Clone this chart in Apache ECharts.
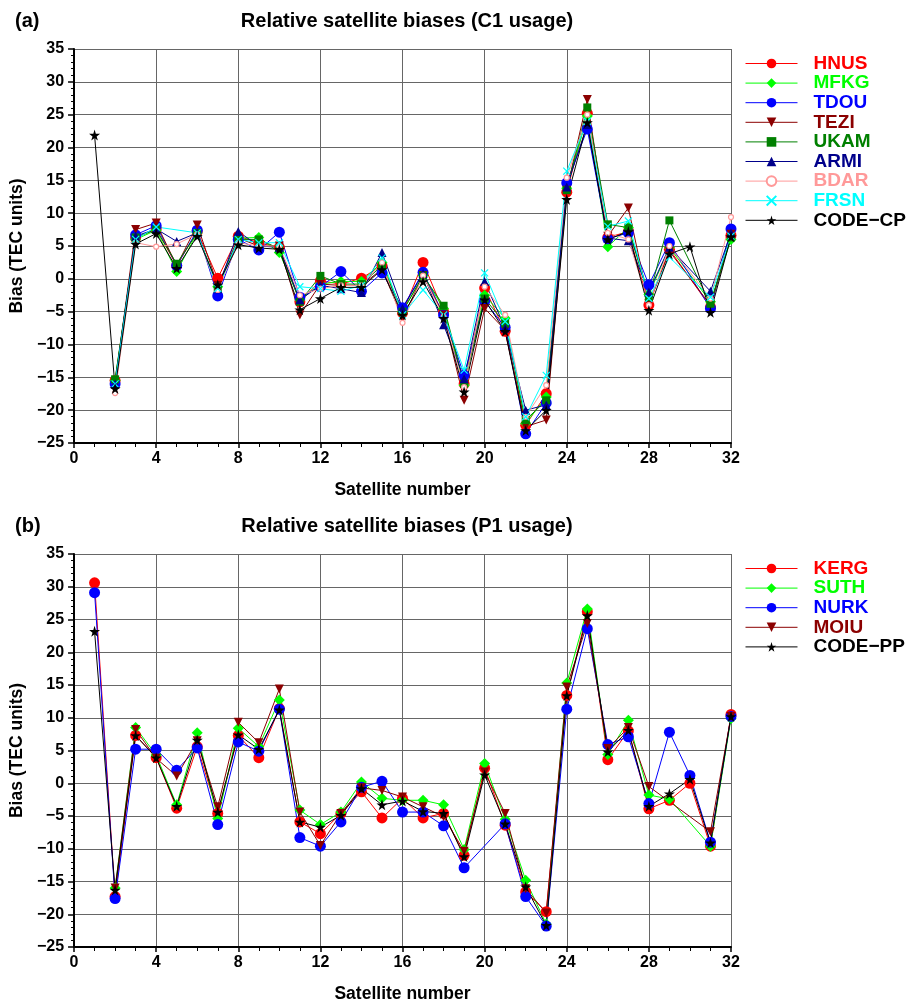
<!DOCTYPE html>
<html>
<head>
<meta charset="utf-8">
<script src="https://cdn.jsdelivr.net/npm/echarts@6/dist/echarts.min.js"></script>
<style>
  html, body { margin: 0; padding: 0; background: #fff; }
  #chart { width: 921px; height: 1004px; }
</style>
</head>
<body>
<div id="chart"></div>
<script>
// satellite numbers 1..32
var sats = [1, 2, 3, 4, 5, 6, 7, 8, 9, 10, 11, 12, 13, 14, 15, 16,
  17, 18, 19, 20, 21, 22, 23, 24, 25, 26, 27, 28, 29, 30, 31, 32];

// (a) C1 usage
var hnus = [null, -15.5, 6.2, 7.6, 2.0, 7.2, 0.1, 6.5, 5.5, 4.8, -3.5, -0.3, -0.8, 0.1, 2.0, -5.2, 2.5, -5.0, -16.0, -1.4, -8.0, -22.3, -17.5, 13.2, 25.2, 6.3, 7.2, -4.0, 4.5, null, -4.3, 6.6];
var mfkg = [null, -15.5, 6.0, 7.4, 1.1, 7.0, -1.2, 6.2, 6.3, 4.0, -3.2, -0.8, -0.4, -0.4, 2.5, -5.0, 0.5, -4.5, -16.2, -2.5, -6.0, -22.0, -18.0, 13.8, 24.8, 4.9, 7.8, -2.4, 4.8, null, -3.5, 6.0];
var tdou = [null, -16.0, 6.7, 8.1, 2.0, 7.4, -2.6, 6.0, 4.4, 7.1, -2.8, -1.2, 1.1, -1.9, 0.9, -4.4, 1.0, -5.5, -14.7, -3.4, -7.4, -23.6, -18.9, 14.6, 22.8, 6.1, 7.0, -0.9, 5.5, null, -4.5, 7.6];
var tezi = [null, -16.0, 7.5, 8.5, 2.0, 8.2, -1.0, 6.2, 5.0, 5.0, -5.5, -0.8, -1.0, -1.0, 1.5, -6.0, 0.5, -5.5, -18.5, -4.5, -7.8, -22.5, -21.5, 13.5, 27.3, 6.5, 10.8, -3.8, 4.2, null, -4.0, 6.8];
var ukam = [null, -15.3, 6.3, 7.5, 2.3, 7.0, -1.5, 6.0, 6.0, 4.6, -3.5, 0.45, -0.8, -0.8, 2.0, -5.0, 0.5, -4.1, -16.0, -3.0, -6.8, -21.5, -18.5, 13.5, 26.1, 8.3, 7.8, -2.8, 8.9, null, -3.8, 6.3];
var armi = [null, -16.0, 6.5, 7.6, 5.7, 7.0, -1.5, 7.2, 5.0, 4.8, -3.2, -1.0, -1.5, -2.1, 4.0, -4.5, 0.8, -7.0, -15.2, -0.4, -7.5, -20.0, -19.2, 14.0, 23.5, 6.2, 5.8, -2.0, 4.8, null, -1.9, 7.0];
var bdar = [null, -17.4, 5.5, 4.9, 5.3, 6.8, -1.7, 5.5, 5.0, 5.0, -2.5, -1.5, -1.0, -1.0, 2.5, -6.7, 0.5, -5.8, -16.5, -1.2, -5.5, -21.0, -16.2, 15.4, 25.0, 7.0, 6.0, -4.0, 5.0, null, -3.0, 9.4];
var frsn = [null, -16.0, 6.0, 7.9, null, 7.0, -1.5, 6.0, 5.5, 5.5, -1.2, -1.5, -1.9, -1.0, 3.2, -5.5, -1.7, -5.5, -13.9, 0.9, -6.5, -21.0, -14.7, 16.4, 24.0, 8.0, 8.8, -3.0, 3.3, null, -2.8, 6.5];
var codeCP = [21.9, -16.7, 5.3, 6.9, 1.6, 6.5, -0.9, 5.2, 4.7, 4.5, -4.7, -3.0, -1.3, -1.3, 1.4, -5.5, -0.4, -6.0, -17.2, -3.2, -8.0, -23.1, -20.0, 12.1, 23.8, 6.0, 7.2, -4.8, 3.8, 4.9, -5.1, 6.4];

// (b) P1 usage
var kerg = [30.6, -17.3, 7.3, 3.9, -3.8, 5.6, -4.6, 7.3, 3.9, 11.4, -5.9, -7.7, -4.6, -1.3, -5.3, -2.3, -5.3, -4.6, -11.0, 2.3, -6.4, -16.6, -19.6, 13.4, 26.2, 3.6, 8.0, -3.9, -2.6, 0.0, -9.6, 10.5];
var suth = [null, -16.0, 8.5, 4.3, -3.3, 7.7, -5.4, 8.4, 5.6, 12.7, -4.1, -6.3, -4.4, 0.2, -2.3, -2.6, -2.6, -3.3, -10.1, 3.0, -5.5, -14.8, -21.5, 15.3, 26.6, 4.4, 9.6, -1.8, -2.4, null, -9.6, 9.9];
var nurk = [29.1, -17.6, 5.2, 5.2, 2.0, 5.4, -6.3, 6.3, 4.9, 11.3, -8.3, -9.6, -5.9, -0.6, 0.3, -4.4, -4.4, -6.5, -12.9, null, -6.2, -17.3, -21.8, 11.3, 23.6, 5.9, 7.1, -3.1, 7.8, 1.2, -9.0, 10.2];
var moiu = [null, -16.0, 8.2, 3.8, 1.1, 6.5, -3.6, 9.3, 6.2, 14.4, -4.4, -9.5, -4.6, -0.7, -1.1, -2.1, -3.6, -5.1, -10.4, 1.7, -4.6, -16.1, -19.8, 14.7, 24.4, 5.3, 8.5, -0.5, null, null, -7.4, 10.2];
var codePP = [23.2, -16.3, 7.3, 3.9, -3.5, 6.6, -4.4, 7.4, 5.2, 11.2, -5.9, -6.7, -4.9, -0.8, -3.3, -2.7, -4.3, -4.6, -11.2, 1.3, -6.2, -15.8, -21.7, 13.4, 25.6, 4.8, 8.1, -3.5, -1.6, 0.6, -9.1, 10.2];

var STAR = 'path://M50,0 L61,35 L98,35 L68,57 L79,91 L50,70 L21,91 L32,57 L2,35 L39,35 Z';
var CROSS = 'path://M0,0 L10,10 M10,0 L0,10';
var TRI_DOWN = 'path://M0,0 L10,0 L5,9 Z';

var narrow = '"Liberation Sans Narrow", "Liberation Sans", Arial, sans-serif';
var sans = '"Liberation Sans", Arial, sans-serif';

function pairs(arr){
  return sats.map(function(s, i){ return [s, arr[i]]; });
}

function mk(name, arr, color, symbol, size, idx, hollow){
  return {
    name: name,
    type: 'line',
    xAxisIndex: idx,
    yAxisIndex: idx,
    data: pairs(arr),
    connectNulls: true,
    symbol: symbol,
    symbolSize: size,
    showAllSymbol: true,
    animation: false,
    lineStyle: { color: color, width: 1 },
    itemStyle: hollow ? { color: hollow, borderColor: color, borderWidth: 1.2 } : { color: color, borderColor: color, borderWidth: 0 }
  };
}

var seriesA = [
  mk('HNUS', hnus, '#ff0000', 'circle', 11, 0),
  mk('MFKG', mfkg, '#00ff00', 'diamond', 11, 0),
  mk('TDOU', tdou, '#0000ff', 'circle', 11, 0),
  mk('TEZI', tezi, '#8b0000', TRI_DOWN, 9, 0),
  mk('UKAM', ukam, '#008000', 'rect', 8, 0),
  mk('ARMI', armi, '#00008b', 'triangle', 9, 0),
  mk('BDAR', bdar, '#ff9999', 'circle', 5, 0, '#fff'),
  mk('FRSN', frsn, '#00ffff', CROSS, 7, 0, 'none'),
  mk('CODE-CP', codeCP, '#000000', STAR, 11, 0)
];
var seriesB = [
  mk('KERG', kerg, '#ff0000', 'circle', 11, 1),
  mk('SUTH', suth, '#00ff00', 'diamond', 11, 1),
  mk('NURK', nurk, '#0000ff', 'circle', 11, 1),
  mk('MOIU', moiu, '#8b0000', TRI_DOWN, 9, 1),
  mk('CODE-PP', codePP, '#000000', STAR, 11, 1)
];

function minus(v){
  return String(v).replace('-', '\u2212');
}

function legendFor(list, top){
  return {
    orient: 'vertical',
    left: 745,
    top: top,
    padding: 0,
    itemWidth: 52,
    itemHeight: 12,
    itemGap: 0.6,
    selectedMode: false,
    lineStyle: { width: 1 },
    formatter: minus,
    textStyle: { fontFamily: sans, fontWeight: 'bold', fontSize: 19, lineHeight: 16, padding: [0, 0, 0, 11] },
    data: list.map(function(s){
      return { name: s.name, textStyle: { color: s.lineStyle.color } };
    })
  };
}

function xAx(idx){
  return {
    type: 'value', gridIndex: idx, min: 0, max: 32, interval: 4,
    name: 'Satellite number', nameLocation: 'middle', nameGap: 38,
    nameTextStyle: { fontFamily: sans, fontWeight: 'bold', fontSize: 17.5, color: '#000' },
    axisLine: { onZero: false, lineStyle: { color: '#000', width: 2 } },
    axisTick: { length: 5, lineStyle: { color: '#000', width: 1.5 } },
    minorTick: { show: true, splitNumber: 4, length: 4, lineStyle: { color: '#000', width: 1 } },
    axisLabel: { fontFamily: narrow, fontWeight: 'bold', fontSize: 16, color: '#000', margin: 8 },
    splitLine: { show: true, lineStyle: { color: '#666', width: 1 } }
  };
}
function yAx(idx){
  return {
    type: 'value', gridIndex: idx, min: -25, max: 35, interval: 5,
    name: 'Bias (TEC units)', nameLocation: 'middle', nameGap: 44,
    nameTextStyle: { fontFamily: sans, fontWeight: 'bold', fontSize: 17.5, color: '#000' },
    axisLine: { show: true, onZero: false, lineStyle: { color: '#000', width: 2 } },
    axisTick: { show: true, length: 6, lineStyle: { color: '#000', width: 1.5 } },
    minorTick: { show: true, splitNumber: 5, length: 3, lineStyle: { color: '#000', width: 1 } },
    axisLabel: { fontFamily: narrow, fontWeight: 'bold', fontSize: 16, color: '#000', margin: 10, formatter: minus },
    splitLine: { show: true, lineStyle: { color: '#666', width: 1 } }
  };
}

var titleStyle = { fontFamily: sans, fontWeight: 'bold', fontSize: 20, color: '#000' };

var chart = echarts.init(document.getElementById('chart'));
chart.setOption({
  backgroundColor: '#fff',
  animation: false,
  title: [
    { text: '(a)', left: 10, top: 6, textStyle: titleStyle },
    { text: 'Relative satellite biases (C1 usage)', left: 402, top: 6, textAlign: 'center', textStyle: titleStyle },
    { text: '(b)', left: 10, top: 511, textStyle: titleStyle },
    { text: 'Relative satellite biases (P1 usage)', left: 402, top: 511, textAlign: 'center', textStyle: titleStyle }
  ],
  legend: [legendFor(seriesA, 54), legendFor(seriesB, 559)],
  grid: [
    { left: 74, top: 49, width: 657, height: 394 },
    { left: 74, top: 554, width: 657, height: 395 }
  ],
  xAxis: [xAx(0), xAx(1)],
  yAxis: [yAx(0), yAx(1)],
  series: seriesA.concat(seriesB)
});
</script>
</body>
</html>
